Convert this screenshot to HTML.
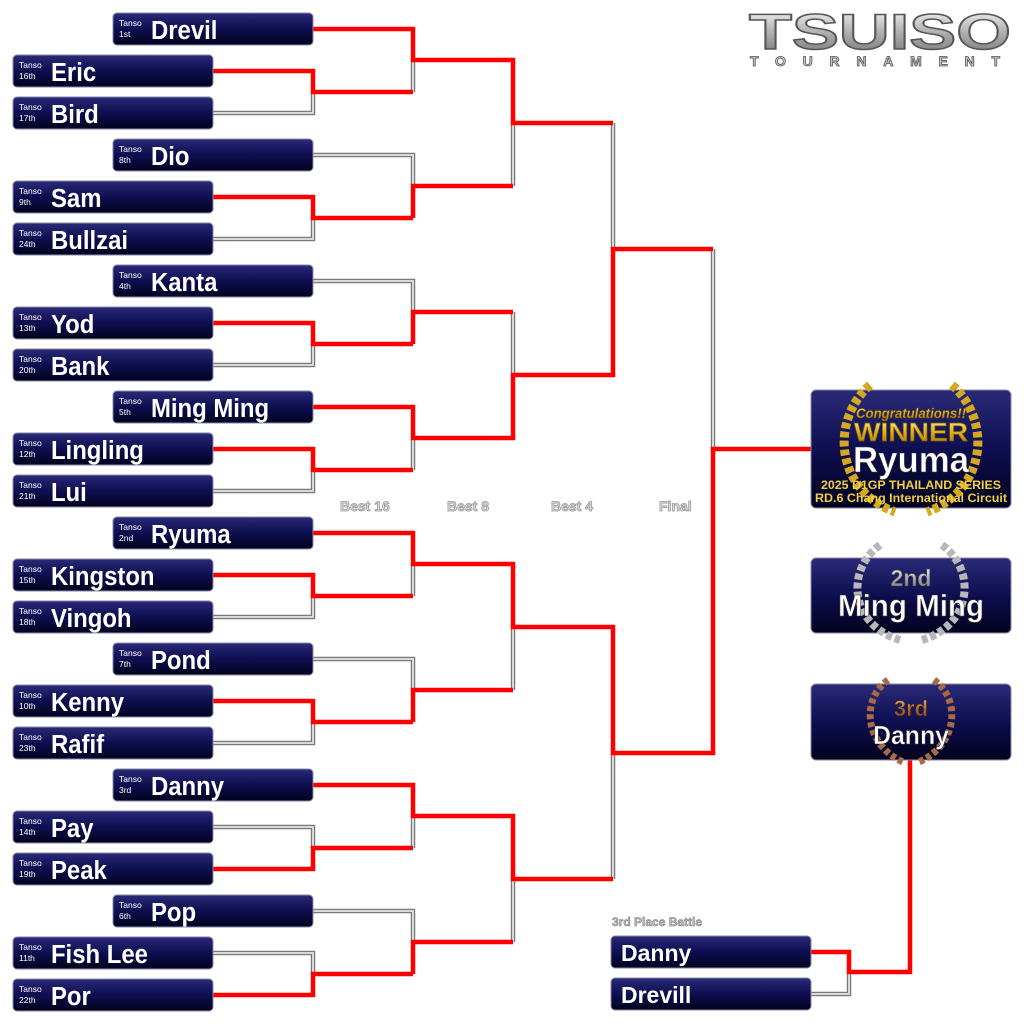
<!DOCTYPE html>
<html><head><meta charset="utf-8"><style>
html,body{margin:0;padding:0;background:#fff;}
svg{display:block;}
.n{font-family:"Liberation Sans",sans-serif;font-weight:bold;fill:#fff;font-size:26px;}
.t{font-family:"Liberation Sans",sans-serif;fill:#fff;font-size:8.5px;}
.r{fill:none;stroke:#f00;stroke-width:4.5;stroke-linejoin:miter;}
.g1{fill:none;stroke:#7a7a7a;stroke-width:4.5;}
.g2{fill:none;stroke:#d8d8d8;stroke-width:2;}
.lbl{font-family:"Liberation Sans",sans-serif;font-weight:bold;font-size:14px;fill:#ddd;stroke:#999;stroke-width:0.8;}
</style></head><body>
<svg width="1024" height="1024" viewBox="0 0 1024 1024" xmlns="http://www.w3.org/2000/svg">
<defs>
<linearGradient id="bx" x1="0" y1="0" x2="0" y2="1">
<stop offset="0" stop-color="#2a2a78"/><stop offset="0.5" stop-color="#0e0e50"/><stop offset="1" stop-color="#02021e"/>
</linearGradient>
<linearGradient id="gold" x1="0" y1="0" x2="0" y2="1">
<stop offset="0" stop-color="#fff3a0"/><stop offset="0.5" stop-color="#e0b020"/><stop offset="1" stop-color="#a07000"/>
</linearGradient>
<linearGradient id="silv" x1="0" y1="0" x2="0" y2="1">
<stop offset="0" stop-color="#ffffff"/><stop offset="0.5" stop-color="#b0b0b0"/><stop offset="1" stop-color="#707070"/>
</linearGradient>
<linearGradient id="brz" x1="0" y1="0" x2="0" y2="1">
<stop offset="0" stop-color="#f0c0a0"/><stop offset="0.5" stop-color="#b06a40"/><stop offset="1" stop-color="#6a3a20"/>
</linearGradient>
</defs>

<g>
<path class="g1" d="M213 113H313V92 M213 239H313V218 M213 365H313V344 M213 491H313V470 M213 617H313V596 M213 743H313V722 M213 827H313V848 M213 953H313V974
M413 92V60 M313 155H413V186 M313 281H413V312 M413 470V438 M413 596V564 M313 659H413V690 M413 848V816 M313 911H413V942
M513 186V123 M513 312V375 M513 690V627 M513 942V879
M613 123V249 M613 879V753 M713 249V449 M811 994H849V972"/>
<path class="g2" d="M213 113H313V92 M213 239H313V218 M213 365H313V344 M213 491H313V470 M213 617H313V596 M213 743H313V722 M213 827H313V848 M213 953H313V974
M413 92V60 M313 155H413V186 M313 281H413V312 M413 470V438 M413 596V564 M313 659H413V690 M413 848V816 M313 911H413V942
M513 186V123 M513 312V375 M513 690V627 M513 942V879
M613 123V249 M613 879V753 M713 249V449 M811 994H849V972"/>
</g>
<path class="r" d="M213 71H313V92H413 M213 197H313V218H413 M213 323H313V344H413 M213 449H313V470H413 M213 575H313V596H413 M213 701H313V722H413 M213 869H313V848H413 M213 995H313V974H413
M313 29H413V60H513 M413 218V186H513 M413 344V312H513 M313 407H413V438H513 M313 533H413V564H513 M413 722V690H513 M313 785H413V816H513 M413 974V942H513
M413 60H513V123H613 M413 438H513V375H613 M413 564H513V627H613 M413 816H513V879H613
M513 375H613V249H713 M513 627H613V753H713
M613 753H713V449H811 M811 952H849V972H910V760"/>

<g>
<rect x="113" y="13" width="200" height="32" rx="4" fill="url(#bx)" stroke="#8888aa" stroke-width="1"/>
<rect x="13" y="55" width="200" height="32" rx="4" fill="url(#bx)" stroke="#8888aa" stroke-width="1"/>
<rect x="13" y="97" width="200" height="32" rx="4" fill="url(#bx)" stroke="#8888aa" stroke-width="1"/>
<rect x="113" y="139" width="200" height="32" rx="4" fill="url(#bx)" stroke="#8888aa" stroke-width="1"/>
<rect x="13" y="181" width="200" height="32" rx="4" fill="url(#bx)" stroke="#8888aa" stroke-width="1"/>
<rect x="13" y="223" width="200" height="32" rx="4" fill="url(#bx)" stroke="#8888aa" stroke-width="1"/>
<rect x="113" y="265" width="200" height="32" rx="4" fill="url(#bx)" stroke="#8888aa" stroke-width="1"/>
<rect x="13" y="307" width="200" height="32" rx="4" fill="url(#bx)" stroke="#8888aa" stroke-width="1"/>
<rect x="13" y="349" width="200" height="32" rx="4" fill="url(#bx)" stroke="#8888aa" stroke-width="1"/>
<rect x="113" y="391" width="200" height="32" rx="4" fill="url(#bx)" stroke="#8888aa" stroke-width="1"/>
<rect x="13" y="433" width="200" height="32" rx="4" fill="url(#bx)" stroke="#8888aa" stroke-width="1"/>
<rect x="13" y="475" width="200" height="32" rx="4" fill="url(#bx)" stroke="#8888aa" stroke-width="1"/>
<rect x="113" y="517" width="200" height="32" rx="4" fill="url(#bx)" stroke="#8888aa" stroke-width="1"/>
<rect x="13" y="559" width="200" height="32" rx="4" fill="url(#bx)" stroke="#8888aa" stroke-width="1"/>
<rect x="13" y="601" width="200" height="32" rx="4" fill="url(#bx)" stroke="#8888aa" stroke-width="1"/>
<rect x="113" y="643" width="200" height="32" rx="4" fill="url(#bx)" stroke="#8888aa" stroke-width="1"/>
<rect x="13" y="685" width="200" height="32" rx="4" fill="url(#bx)" stroke="#8888aa" stroke-width="1"/>
<rect x="13" y="727" width="200" height="32" rx="4" fill="url(#bx)" stroke="#8888aa" stroke-width="1"/>
<rect x="113" y="769" width="200" height="32" rx="4" fill="url(#bx)" stroke="#8888aa" stroke-width="1"/>
<rect x="13" y="811" width="200" height="32" rx="4" fill="url(#bx)" stroke="#8888aa" stroke-width="1"/>
<rect x="13" y="853" width="200" height="32" rx="4" fill="url(#bx)" stroke="#8888aa" stroke-width="1"/>
<rect x="113" y="895" width="200" height="32" rx="4" fill="url(#bx)" stroke="#8888aa" stroke-width="1"/>
<rect x="13" y="937" width="200" height="32" rx="4" fill="url(#bx)" stroke="#8888aa" stroke-width="1"/>
<rect x="13" y="979" width="200" height="32" rx="4" fill="url(#bx)" stroke="#8888aa" stroke-width="1"/>
</g>
<g class="t">
<text x="119" y="26">Tanso</text><text x="119" y="37">1st</text>
<text x="19" y="68">Tanso</text><text x="19" y="79">16th</text>
<text x="19" y="110">Tanso</text><text x="19" y="121">17th</text>
<text x="119" y="152">Tanso</text><text x="119" y="163">8th</text>
<text x="19" y="194">Tanso</text><text x="19" y="205">9th</text>
<text x="19" y="236">Tanso</text><text x="19" y="247">24th</text>
<text x="119" y="278">Tanso</text><text x="119" y="289">4th</text>
<text x="19" y="320">Tanso</text><text x="19" y="331">13th</text>
<text x="19" y="362">Tanso</text><text x="19" y="373">20th</text>
<text x="119" y="404">Tanso</text><text x="119" y="415">5th</text>
<text x="19" y="446">Tanso</text><text x="19" y="457">12th</text>
<text x="19" y="488">Tanso</text><text x="19" y="499">21th</text>
<text x="119" y="530">Tanso</text><text x="119" y="541">2nd</text>
<text x="19" y="572">Tanso</text><text x="19" y="583">15th</text>
<text x="19" y="614">Tanso</text><text x="19" y="625">18th</text>
<text x="119" y="656">Tanso</text><text x="119" y="667">7th</text>
<text x="19" y="698">Tanso</text><text x="19" y="709">10th</text>
<text x="19" y="740">Tanso</text><text x="19" y="751">23th</text>
<text x="119" y="782">Tanso</text><text x="119" y="793">3rd</text>
<text x="19" y="824">Tanso</text><text x="19" y="835">14th</text>
<text x="19" y="866">Tanso</text><text x="19" y="877">19th</text>
<text x="119" y="908">Tanso</text><text x="119" y="919">6th</text>
<text x="19" y="950">Tanso</text><text x="19" y="961">11th</text>
<text x="19" y="992">Tanso</text><text x="19" y="1003">22th</text>
</g>
<g class="n" transform="scale(0.92,1)">
<text x="164.1" y="39">Drevil</text>
<text x="55.4" y="81">Eric</text>
<text x="55.4" y="123">Bird</text>
<text x="164.1" y="165">Dio</text>
<text x="55.4" y="207">Sam</text>
<text x="55.4" y="249">Bullzai</text>
<text x="164.1" y="291">Kanta</text>
<text x="55.4" y="333">Yod</text>
<text x="55.4" y="375">Bank</text>
<text x="164.1" y="417">Ming Ming</text>
<text x="55.4" y="459">Lingling</text>
<text x="55.4" y="501">Lui</text>
<text x="164.1" y="543">Ryuma</text>
<text x="55.4" y="585">Kingston</text>
<text x="55.4" y="627">Vingoh</text>
<text x="164.1" y="669">Pond</text>
<text x="55.4" y="711">Kenny</text>
<text x="55.4" y="753">Rafif</text>
<text x="164.1" y="795">Danny</text>
<text x="55.4" y="837">Pay</text>
<text x="55.4" y="879">Peak</text>
<text x="164.1" y="921">Pop</text>
<text x="55.4" y="963">Fish Lee</text>
<text x="55.4" y="1005">Por</text>
</g>

<text class="lbl" x="340" y="511">Best 16</text>
<text class="lbl" x="447" y="511">Best 8</text>
<text class="lbl" x="551" y="511">Best 4</text>
<text class="lbl" x="659" y="511">Final</text>

<text x="749" y="49" textLength="262" lengthAdjust="spacingAndGlyphs" font-family="Liberation Sans,sans-serif" font-weight="bold" font-size="50" fill="url(#silv)" stroke="#555" stroke-width="1.5">TSUISO</text>
<text x="750" y="66" textLength="250" lengthAdjust="spacing" font-family="Liberation Sans,sans-serif" font-weight="bold" font-size="14" fill="#ccc" stroke="#555" stroke-width="0.8">TOURNAMENT</text>

<rect x="811" y="390" width="200" height="118" rx="5" fill="url(#bx)" stroke="#8888aa"/>
<g fill="none" stroke="#d4a820" stroke-width="9" stroke-dasharray="6 3">
<path d="M870 385 C830 420 835 490 895 512"/>
<path d="M952 385 C992 420 987 490 927 512"/>
</g>
<text x="911" y="418" text-anchor="middle" font-family="Liberation Sans,sans-serif" font-style="italic" font-weight="bold" font-size="14" fill="url(#gold)" stroke="#7a5a00" stroke-width="0.5" textLength="110" lengthAdjust="spacingAndGlyphs">Congratulations!!</text>
<text x="911" y="441" text-anchor="middle" font-family="Liberation Sans,sans-serif" font-weight="bold" font-size="26" fill="url(#gold)" stroke="#7a5a00" stroke-width="0.7" textLength="114" lengthAdjust="spacingAndGlyphs">WINNER</text>
<text x="911" y="472" text-anchor="middle" font-family="Liberation Sans,sans-serif" font-weight="bold" font-size="36" fill="#fff" stroke="#333" stroke-width="0.6" textLength="116" lengthAdjust="spacingAndGlyphs">Ryuma</text>
<text x="911" y="489" text-anchor="middle" font-family="Liberation Sans,sans-serif" font-weight="bold" font-size="12" fill="#f0d040" textLength="180" lengthAdjust="spacingAndGlyphs">2025 D1GP THAILAND SERIES</text>
<text x="911" y="502" text-anchor="middle" font-family="Liberation Sans,sans-serif" font-weight="bold" font-size="12" fill="#f0d040" textLength="192" lengthAdjust="spacingAndGlyphs">RD.6 Chang International Circuit</text>

<rect x="811" y="558" width="200" height="75" rx="5" fill="url(#bx)" stroke="#8888aa"/>
<g fill="none" stroke="#b8b8b8" stroke-width="8" stroke-dasharray="6 3">
<path d="M880 545 C845 570 850 625 900 640"/>
<path d="M942 545 C977 570 972 625 922 640"/>
</g>
<text x="911" y="586" text-anchor="middle" font-family="Liberation Sans,sans-serif" font-weight="bold" font-size="23" fill="url(#silv)" stroke="#444" stroke-width="0.6">2nd</text>
<text x="911" y="616" text-anchor="middle" font-family="Liberation Sans,sans-serif" font-weight="bold" font-size="31" fill="#fff" stroke="#333" stroke-width="0.6" textLength="146" lengthAdjust="spacingAndGlyphs">Ming Ming</text>

<rect x="811" y="684" width="200" height="76" rx="5" fill="url(#bx)" stroke="#8888aa"/>
<g fill="none" stroke="#a86a44" stroke-width="7" stroke-dasharray="5 3">
<path d="M888 680 C860 700 865 745 903 762"/>
<path d="M934 680 C962 700 957 745 919 762"/>
</g>
<text x="911" y="716" text-anchor="middle" font-family="Liberation Sans,sans-serif" font-weight="bold" font-size="22" fill="url(#brz)" stroke="#3a1a00" stroke-width="0.6">3rd</text>
<text x="911" y="744" text-anchor="middle" font-family="Liberation Sans,sans-serif" font-weight="bold" font-size="26" fill="#fff" stroke="#333" stroke-width="0.5" textLength="76" lengthAdjust="spacingAndGlyphs">Danny</text>

<text x="612" y="926" font-family="Liberation Sans,sans-serif" font-weight="bold" font-size="12" fill="#bbb" stroke="#777" stroke-width="0.5">3rd Place Battle</text>
<rect x="611" y="936" width="200" height="32" rx="4" fill="url(#bx)" stroke="#8888aa"/>
<rect x="611" y="978" width="200" height="32" rx="4" fill="url(#bx)" stroke="#8888aa"/>
<text x="621" y="961" font-family="Liberation Sans,sans-serif" font-weight="bold" font-size="23" fill="#fff">Danny</text>
<text x="621" y="1003" font-family="Liberation Sans,sans-serif" font-weight="bold" font-size="23" fill="#fff">Drevill</text>
</svg>
</body></html>
